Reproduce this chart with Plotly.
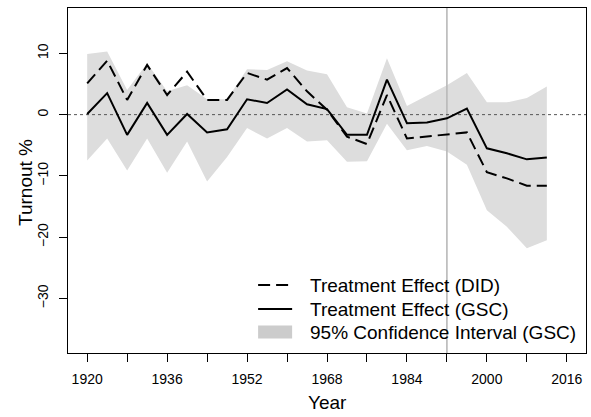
import plotly.graph_objects as go

# Election years covered by the estimates
years = list(range(1920, 2013, 4))

# Turnout effect estimates (percentage points)
did_effect = [5.1, 8.8, 2.4, 8.1, 3.2, 7.0, 2.4, 2.4, 6.8, 5.7, 7.6, 3.8, 0.8,
              -3.6, -4.8, 3.2, -3.9, -3.6, -3.3, -2.9, -9.4, -10.4, -11.6, -11.6]
gsc_effect = [0.1, 3.5, -3.3, 1.9, -3.3, 0.1, -2.9, -2.4, 2.5, 1.9, 4.1, 1.7, 0.9,
              -3.3, -3.3, 5.7, -1.4, -1.3, -0.6, 1.0, -5.5, -6.3, -7.3, -7.0]
ci_upper = [9.9, 10.3, 4.0, 8.4, 3.8, 4.8, 2.5, 2.5, 7.4, 7.3, 8.7, 7.2, 6.6,
            1.2, 0.2, 9.2, 1.4, 3.1, 4.8, 6.8, 2.0, 2.0, 2.7, 4.6]
ci_lower = [-7.5, -3.9, -9.1, -3.9, -9.5, -4.4, -10.9, -6.9, -2.2, -3.9, -2.2, -4.4, -4.2,
            -7.7, -7.6, -1.5, -5.8, -5.1, -6.0, -8.2, -15.6, -18.3, -21.8, -20.5]

treatment_year = 1992
x_ticks = list(range(1920, 2017, 8))
x_labels = [str(y) if (y - 1920) % 16 == 0 else "" for y in x_ticks]
y_ticks = [-30, -20, -10, 0, 10]

legend_labels = ["Treatment Effect (DID)", "Treatment Effect (GSC)",
                 "95% Confidence Interval (GSC)"]

FONT = "Liberation Sans, Arial, Helvetica, sans-serif"
x_range = [1916.16, 2019.84]
y_range = [-38.9, 17.4]

fig = go.Figure()

# confidence band
fig.add_trace(go.Scatter(x=years, y=ci_upper, mode="lines", line=dict(width=0),
                         hoverinfo="skip", showlegend=False))
fig.add_trace(go.Scatter(x=years, y=ci_lower, mode="lines", line=dict(width=0),
                         fill="tonexty", fillcolor="#dddddd",
                         hoverinfo="skip", showlegend=False))

# treatment onset
fig.add_trace(go.Scatter(x=[treatment_year, treatment_year], y=y_range, mode="lines",
                         line=dict(color="#b8b8b8", width=1.6), showlegend=False))
# zero reference
fig.add_trace(go.Scatter(x=x_range, y=[0, 0], mode="lines",
                         line=dict(color="#555555", width=1, dash="3px,3px"),
                         showlegend=False))

fig.add_trace(go.Scatter(x=years, y=did_effect, mode="lines",
                         line=dict(color="black", width=2, dash="12px,6px"),
                         showlegend=False))
fig.add_trace(go.Scatter(x=years, y=gsc_effect, mode="lines",
                         line=dict(color="black", width=2), showlegend=False))

W, H = 591, 417
L, R, T, B = 68, 5.3, 8, 64
pw, ph = W - L - R, H - T - B


def px_x(p):
    return (p - L) / pw


def px_y(p):
    return (H - B - p) / ph


# legend drawn in paper coordinates
leg_x0, leg_x1, txt_x = 258, 292, 308
rows = [285, 309, 332]
fig.add_shape(type="line", xref="paper", yref="paper",
              x0=px_x(leg_x0), x1=px_x(leg_x1), y0=px_y(rows[0]), y1=px_y(rows[0]),
              line=dict(color="black", width=2, dash="12px,6px"))
fig.add_shape(type="line", xref="paper", yref="paper",
              x0=px_x(leg_x0), x1=px_x(leg_x1), y0=px_y(rows[1]), y1=px_y(rows[1]),
              line=dict(color="black", width=2))
fig.add_shape(type="rect", xref="paper", yref="paper",
              x0=px_x(leg_x0), x1=px_x(leg_x1), y0=px_y(rows[2] - 6.5), y1=px_y(rows[2] + 6.5),
              line=dict(width=0), fillcolor="#cccccc")
for lab, ry in zip(legend_labels, rows):
    fig.add_annotation(x=px_x(txt_x), y=px_y(ry), xref="paper", yref="paper",
                       text=lab, showarrow=False, xanchor="left", yanchor="middle",
                       font=dict(family=FONT, size=19, color="black"))

# axis titles
fig.add_annotation(x=0.5, y=px_y(402), xref="paper", yref="paper", text="Year",
                   showarrow=False, xanchor="center", yanchor="middle",
                   font=dict(family=FONT, size=19, color="black"))
fig.add_annotation(x=px_x(25), y=px_y(182), xref="paper", yref="paper", text="Turnout %",
                   showarrow=False, xanchor="center", yanchor="middle", textangle=-90,
                   font=dict(family=FONT, size=19, color="black"))

fig.update_layout(
    width=W, height=H,
    margin=dict(l=L, r=R, t=T, b=B, pad=0),
    paper_bgcolor="white", plot_bgcolor="white",
    showlegend=False,
    font=dict(family=FONT, size=14, color="black"),
)
fig.update_xaxes(range=x_range, tickvals=x_ticks, ticktext=x_labels,
                 showgrid=False, zeroline=False, showline=True, mirror=True,
                 linecolor="black", linewidth=1, ticks="outside", ticklen=8,
                 tickcolor="black", tickwidth=1, tickfont=dict(size=14),
                 ticklabelstandoff=5)
fig.update_yaxes(range=y_range, tickvals=y_ticks,
                 showgrid=False, zeroline=False, showline=True, mirror=True,
                 linecolor="black", linewidth=1, ticks="outside", ticklen=8,
                 tickcolor="black", tickwidth=1, tickangle=-90, tickfont=dict(size=14),
                 ticklabelstandoff=5)

fig.write_html("out.html")
